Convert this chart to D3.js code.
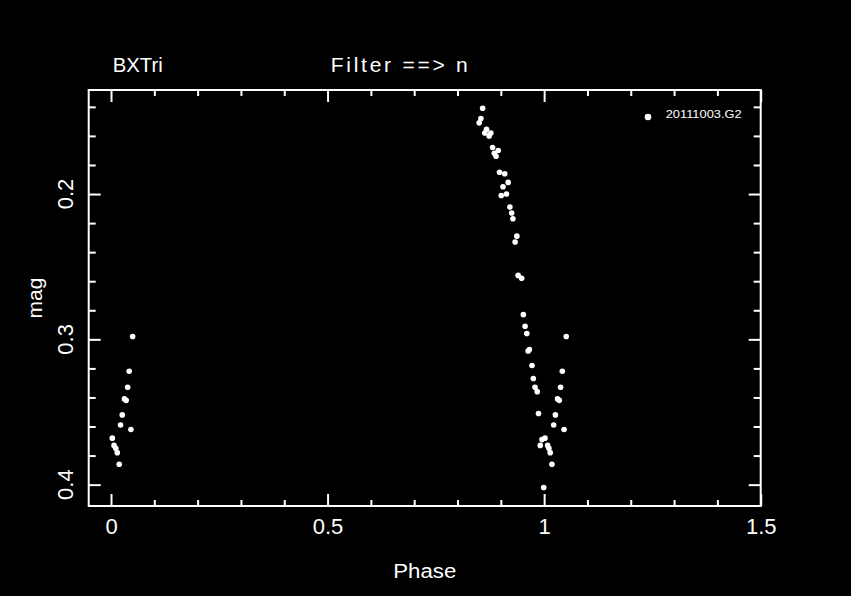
<!DOCTYPE html>
<head>
  <meta charset="utf-8">
  <script src="https://d3js.org/d3.v7.min.js"></script>
  <style>
    body { margin:0; background:#000; }
    svg { display:block; background:#000; }
    .axis path { display:none; }
    .axis line { stroke:#fff; stroke-width:2; }
    text { fill:#fff; font-family:"Liberation Sans", sans-serif; }
  </style>
</head>
<body>
<script>
// phase / magnitude
var phase = [0.858,0.854,0.850,0.867,0.863,0.873,0.877,0.881,0.894,0.885,
             0.889,0.897,0.909,0.917,0.905,0.913,0.901,0.921,0.925,0.928,
             0.937,0.933,0.940,0.948,0.952,0.956,0.960,0.966,0.963,0.972,
             0.975,0.979,0.984,0.987,0.995,1.002,0.991,1.008,1.011,1.014,
             1.018,0.999,1.051,1.042,1.038,1.031,1.035,1.026,1.022,1.046,
             0.050,0.042,0.0385,0.031,0.035,0.026,0.022,0.046,0.003,0.007,
             0.011,0.0145,0.019];
var mag   = [0.141,0.148,0.151,0.1555,0.158,0.160,0.158,0.168,0.170,0.172,
             0.174,0.185,0.186,0.192,0.195,0.200,0.201,0.209,0.213,0.217,
             0.229,0.233,0.256,0.258,0.283,0.291,0.296,0.307,0.308,0.318,
             0.327,0.333,0.336,0.351,0.369,0.368,0.373,0.373,0.375,0.378,
             0.386,0.402,0.298,0.322,0.333,0.341,0.342,0.352,0.359,0.362,
             0.298,0.322,0.333,0.341,0.342,0.352,0.359,0.362,0.368,0.373,
             0.375,0.378,0.386];

var xMajor = [0, 0.5, 1, 1.5];
var xMinor = [0.1,0.2,0.3,0.4,0.6,0.7,0.8,0.9,1.1,1.2,1.3,1.4];
var yMajor = [0.2, 0.3, 0.4];
var yMinor = [0.14,0.16,0.18,0.22,0.24,0.26,0.28,0.32,0.34,0.36,0.38];
var legendLabel = "20111003.G2";

var w = 851, h = 596;
var pL = 88.7, pR = 760.7, pT = 90, pB = 506;

var svg = d3.select("body").append("svg").attr("width", w).attr("height", h);

var x = d3.scaleLinear().domain([-0.0515, 1.5]).range([pL, pR]);
var y = d3.scaleLinear().domain([0.1284, 0.4147]).range([pT, pB]);

// frame
svg.append("rect")
  .attr("x", pL).attr("y", pT)
  .attr("width", pR - pL).attr("height", pB - pT)
  .attr("fill", "none").attr("stroke", "#fff").attr("stroke-width", 2);

function fmt(d) { return d3.format("")(d); }

// bottom axis
svg.append("g").attr("class", "axis").attr("transform", "translate(0," + pB + ")")
  .call(d3.axisBottom(x).tickValues(xMajor).tickSizeInner(-12).tickSizeOuter(0)
        .tickPadding(12).tickFormat(fmt))
  .selectAll("text").attr("font-size", 22).attr("font-family", "Liberation Sans").attr("fill", "#fff");
svg.append("g").attr("class", "axis").attr("transform", "translate(0," + pB + ")")
  .call(d3.axisBottom(x).tickValues(xMinor).tickSizeInner(-6).tickSizeOuter(0).tickFormat(""));
// top axis
svg.append("g").attr("class", "axis").attr("transform", "translate(0," + pT + ")")
  .call(d3.axisTop(x).tickValues(xMajor).tickSizeInner(-12).tickSizeOuter(0).tickFormat(""));
svg.append("g").attr("class", "axis").attr("transform", "translate(0," + pT + ")")
  .call(d3.axisTop(x).tickValues(xMinor).tickSizeInner(-6).tickSizeOuter(0).tickFormat(""));
// left axis
svg.append("g").attr("class", "axis").attr("transform", "translate(" + pL + ",0)")
  .call(d3.axisLeft(y).tickValues(yMajor).tickSizeInner(-12).tickSizeOuter(0).tickFormat(""));
svg.append("g").attr("class", "axis").attr("transform", "translate(" + pL + ",0)")
  .call(d3.axisLeft(y).tickValues(yMinor).tickSizeInner(-7).tickSizeOuter(0).tickFormat(""));
// right axis
svg.append("g").attr("class", "axis").attr("transform", "translate(" + pR + ",0)")
  .call(d3.axisRight(y).tickValues(yMajor).tickSizeInner(-12).tickSizeOuter(0).tickFormat(""));
svg.append("g").attr("class", "axis").attr("transform", "translate(" + pR + ",0)")
  .call(d3.axisRight(y).tickValues(yMinor).tickSizeInner(-7).tickSizeOuter(0).tickFormat(""));

// rotated y labels
svg.selectAll(".ylab").data(yMajor).enter().append("text")
  .attr("class", "ylab")
  .attr("transform", function(d) { return "translate(65.5," + y(d) + ") rotate(-90)"; })
  .attr("text-anchor", "middle").attr("dy", "0.36em")
  .attr("font-size", 22)
  .text(function(d) { return fmt(d); });

// titles
svg.append("text").attr("x", 112.7).attr("y", 72).attr("font-size", 21)
  .attr("textLength", 50).attr("lengthAdjust", "spacingAndGlyphs").text("BXTri");
svg.append("text").attr("x", 330.7).attr("y", 72).attr("font-size", 21)
  .attr("textLength", 137).attr("lengthAdjust", "spacing").text("Filter ==> n");
svg.append("text").attr("x", 393.3).attr("y", 577.5).attr("font-size", 20)
  .attr("textLength", 63).attr("lengthAdjust", "spacingAndGlyphs").text("Phase");
svg.append("text").attr("transform", "translate(41.7,298) rotate(-90)")
  .attr("font-size", 21).attr("text-anchor", "middle").text("mag");

// points
var pts = phase.map(function(p, i) { return [p, mag[i]]; });
svg.selectAll("circle.pt").data(pts).enter().append("circle")
  .attr("class", "pt")
  .attr("cx", function(d) { return x(d[0]); })
  .attr("cy", function(d) { return y(d[1]); })
  .attr("r", 2.8)
  .attr("fill", "#fff");

// legend
svg.append("circle").attr("cx", 648).attr("cy", 117).attr("r", 3.3).attr("fill", "#fff");
svg.append("text").attr("x", 665.7).attr("y", 118.3).attr("font-size", 11)
  .attr("textLength", 76).attr("lengthAdjust", "spacingAndGlyphs").text(legendLabel);
</script>
</body>
